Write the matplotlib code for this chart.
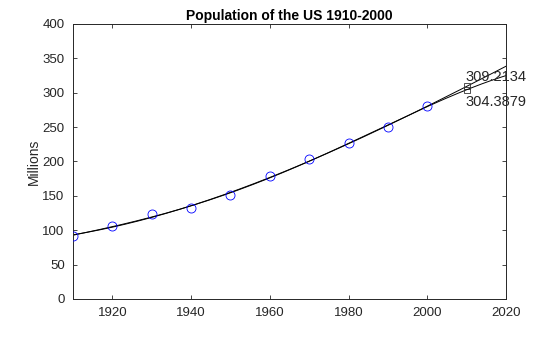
import numpy as np
import matplotlib
matplotlib.use('Agg')
import matplotlib.pyplot as plt

plt.rcParams['font.family'] = ['Liberation Sans', 'DejaVu Sans']

# census data
years = np.arange(1910, 2001, 10)
pop = np.array([91.972, 105.711, 123.203, 131.669, 150.697,
                179.323, 203.212, 226.505, 249.633, 281.422])
fit_degrees = [3, 4]
predict_year = 2010
xticks = [1920, 1940, 1960, 1980, 2000, 2020]
yticks = np.arange(0, 401, 50)


def main():
    fig = plt.figure(figsize=(5.6, 3.37), dpi=100)
    ax = fig.add_axes([0.1304, 0.1128, 0.7732, 0.816])

    mu, sd = years.mean(), years.std()
    t = np.linspace(1910, 2020, 300)
    ax.plot(years, pop, 'o', mfc='none', mec='blue', ms=6.5, mew=0.6, zorder=3)

    preds = []
    for d in fit_degrees:
        p = np.polyfit((years - mu) / sd, pop, d)
        ax.plot(t, np.polyval(p, (t - mu) / sd), color='black', lw=0.7)
        v = np.polyval(p, (predict_year - mu) / sd)
        ax.plot(predict_year, v, 's', mfc='none', mec='#333333', ms=5, mew=0.6)
        preds.append(v)

    # labels for the two predictions
    ax.annotate('%.4f' % preds[0], (predict_year, preds[0]), xytext=(-1, 7),
                textcoords='offset points', ha='left', va='center',
                fontsize=10.5, color='#262626')
    ax.annotate('%.4f' % preds[1], (predict_year, preds[1]), xytext=(-1, -8.5),
                textcoords='offset points', ha='left', va='center',
                fontsize=10.5, color='#262626')

    ax.set_xlim(1910, 2020)
    ax.set_ylim(0, 400)
    ax.set_xticks(xticks)
    ax.set_yticks(yticks)
    ax.tick_params(direction='in', top=True, right=True, length=3,
                   width=0.6, labelsize=9.5, colors='#262626', pad=6)
    for s in ax.spines.values():
        s.set_linewidth(0.7)
        s.set_color('#262626')
    ax.set_ylabel('Millions', fontsize=10, color='#262626', labelpad=1)
    ax.set_title('Population of the US 1910-2000', fontsize=10,
                 fontweight='bold', pad=3)

    fig.savefig('out.png')


if __name__ == '__main__':
    main()
